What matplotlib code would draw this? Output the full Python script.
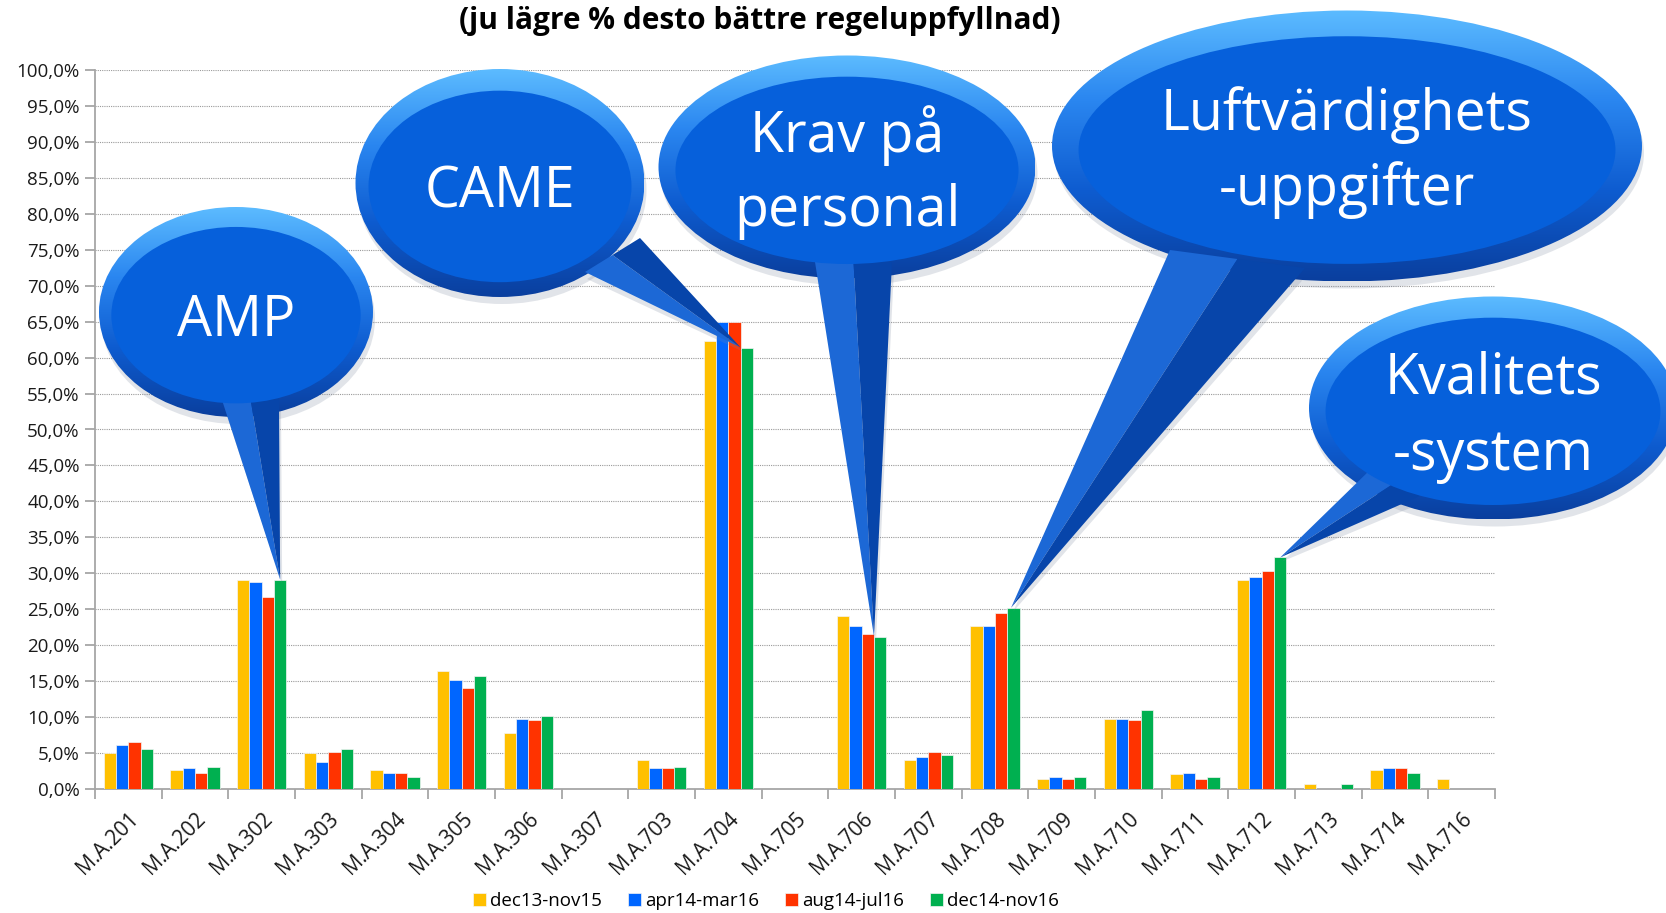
#!/usr/bin/env python3
"""Grouped bar chart of rule findings per M.A. paragraph, with speech-bubble callouts."""

import numpy as np
import matplotlib
matplotlib.use("Agg")
import matplotlib.pyplot as plt
from matplotlib.patches import Ellipse, Polygon
from matplotlib.colors import LinearSegmentedColormap
from matplotlib.ticker import FuncFormatter, MultipleLocator

plt.rcParams["font.family"] = ["Open Sans", "DejaVu Sans"]

CATEGORIES = ["M.A.201", "M.A.202", "M.A.302", "M.A.303", "M.A.304", "M.A.305",
              "M.A.306", "M.A.307", "M.A.703", "M.A.704", "M.A.705", "M.A.706",
              "M.A.707", "M.A.708", "M.A.709", "M.A.710", "M.A.711", "M.A.712",
              "M.A.713", "M.A.714", "M.A.716"]
SERIES = ["dec13-nov15", "apr14-mar16", "aug14-jul16", "dec14-nov16"]
DEC13_NOV15 = [5.0, 2.7, 29.1, 5.0, 2.7, 16.4, 7.8, 0, 4.1, 62.3, 0, 24.1,
               4.1, 22.7, 1.4, 9.8, 2.1, 29.1, 0.7, 2.7, 1.4]
APR14_MAR16 = [6.1, 2.9, 28.8, 3.8, 2.2, 15.2, 9.8, 0, 2.9, 65.0, 0, 22.7,
               4.5, 22.7, 1.6, 9.8, 2.2, 29.5, 0, 2.9, 0]
AUG14_JUL16 = [6.6, 2.2, 26.7, 5.2, 2.2, 14.1, 9.6, 0, 2.9, 65.0, 0, 21.6,
               5.2, 24.5, 1.4, 9.6, 1.4, 30.3, 0, 2.9, 0]
DEC14_NOV16 = [5.5, 3.1, 29.1, 5.5, 1.6, 15.7, 10.1, 0, 3.1, 61.4, 0, 21.2,
               4.7, 25.2, 1.6, 11.0, 1.6, 32.2, 0.7, 2.2, 0]
COLORS = ["#FFC000", "#0066FF", "#FF3300", "#00B050"]

CALLOUT_TEXT = ["AMP", "CAME", "Krav på\npersonal", "Luftvärdighets\n-uppgifter",
                "Kvalitets\n-system"]
CALLOUT_TARGET = ["M.A.302", "M.A.704", "M.A.706", "M.A.708", "M.A.712"]

W, H = 1666, 913
BAR_W = 0.185

RIM = LinearSegmentedColormap.from_list(
    "rim", ["#5CBBFF", "#2A86F0", "#0E5CD0", "#0A3F9E"])


def pct(v, _pos):
    return f"{v:.1f}".replace(".", ",") + "%"


def draw_bubble(ov, z, cx, cy, w, h, base1, base2, tip, baselines, text, fs):
    # soft shadow, mostly below the bubble
    ov.add_patch(Ellipse((cx + 2, cy + 7), w, h, fc="#7a869c", alpha=0.22,
                         lw=0, zorder=z))
    ov.add_patch(Polygon([(base1[0] + 2, base1[1] + 7), (tip[0] + 2, tip[1] + 4),
                          (base2[0] + 2, base2[1] + 7)], closed=True,
                         fc="#7a869c", alpha=0.22, lw=0, zorder=z))
    # rim with vertical gradient
    grad = np.linspace(0, 1, 256)[:, None]
    im = ov.imshow(grad, cmap=RIM, aspect="auto", interpolation="bilinear",
                   extent=(cx - w / 2, cx + w / 2, cy + h / 2, cy - h / 2),
                   zorder=z + 1)
    clip = Ellipse((cx, cy), w, h, transform=ov.transData, fc="none", ec="none")
    im.set_clip_path(clip)
    # tail in two shades
    mid = ((base1[0] + base2[0]) / 2, (base1[1] + base2[1]) / 2)
    ov.add_patch(Polygon([base1, tip, mid], closed=True, fc="#1C68D6", lw=0,
                         zorder=z + 2))
    ov.add_patch(Polygon([mid, tip, base2], closed=True, fc="#0745AA", lw=0,
                         zorder=z + 2))
    # face
    ov.add_patch(Ellipse((cx, cy + h * 0.015), w * 0.91, h * 0.84,
                         fc="#0660DB", lw=0, zorder=z + 3))
    for line, yb in zip(text.split("\n"), baselines):
        ov.text(cx, yb, line, color="white", fontsize=fs, ha="center",
                va="baseline", zorder=z + 4)


def main():
    fig = plt.figure(figsize=(W / 100, H / 100), dpi=100)
    ax = fig.add_axes([95 / W, 1 - 789 / H, 1400 / W, (789 - 70) / H])

    x = np.arange(len(CATEGORIES))
    for k, (vals, col, name) in enumerate(zip(
            [DEC13_NOV15, APR14_MAR16, AUG14_JUL16, DEC14_NOV16], COLORS, SERIES)):
        ax.bar(x + (k - 1.5) * BAR_W, vals, BAR_W, color=col, label=name,
               edgecolor="#f4f4f4", linewidth=0.5, zorder=3)

    ax.set_xlim(-0.5, len(CATEGORIES) - 0.5)
    ax.set_ylim(0, 100)
    ax.yaxis.set_major_locator(MultipleLocator(5))
    ax.yaxis.set_major_formatter(FuncFormatter(pct))
    ax.grid(axis="y", color="#9a9a9a", linestyle=(0, (1, 1)), linewidth=0.8,
            zorder=0)
    for side in ["top", "right"]:
        ax.spines[side].set_visible(False)
    for side in ["left", "bottom"]:
        ax.spines[side].set_color("#a6a6a6")
        ax.spines[side].set_linewidth(1.3)

    ax.set_xticks(x)
    ax.set_xticklabels(CATEGORIES, rotation=45, ha="right",
                       rotation_mode="anchor", fontsize=15, color="#1a1a1a")
    ax.tick_params(axis="x", which="major", length=0, pad=14)
    ax.set_xticks(np.arange(len(CATEGORIES) + 1) - 0.5, minor=True)
    ax.tick_params(axis="x", which="minor", length=7, color="#a6a6a6", width=1.3)
    ax.tick_params(axis="y", length=7, color="#a6a6a6", width=1.3,
                   labelsize=13.5, labelcolor="#1a1a1a", pad=4)

    fig.text(760 / W, 1 - 21 / H, "(ju lägre % desto bättre regeluppfyllnad)",
             ha="center", va="center", fontsize=21.5, fontweight="bold")

    fig.legend(loc="center", bbox_to_anchor=(766 / W, 1 - 901 / H), ncol=4,
               frameon=False, fontsize=13.5, handlelength=0.7, handleheight=0.7,
               handletextpad=0.2, columnspacing=1.4, borderaxespad=0)

    # speech bubbles drawn in figure pixel space, tails aimed at bar tops
    ov = fig.add_axes([0, 0, 1, 1])
    ov.set_axis_off()
    ov.set_zorder(5)

    def tip_at(cat, offset, value):
        i = CATEGORIES.index(cat)
        px, py = ax.transData.transform((i + offset * BAR_W, value))
        return (px, H - py)

    green = dict(zip(CATEGORIES, DEC14_NOV16))
    shapes = [
        # cx, cy, w, h, base1, base2, tip offset, baselines
        (236, 312, 274, 210, (222, 400), (279, 398), 1.5, [336]),
        (500, 183, 289, 228, (585, 272), (640, 238), 1.0, [208]),
        (847, 167, 377, 223, (815, 262), (892, 262), 1.0, [152, 226]),
        (1347, 146, 590, 271, (1170, 250), (1305, 268), 1.3, [130, 205]),
        (1493, 408, 368, 223, (1372, 468), (1420, 496), 1.5, [393, 470]),
    ]
    for n, (text, cat, shp) in enumerate(zip(CALLOUT_TEXT, CALLOUT_TARGET, shapes)):
        cx, cy, w, h, b1, b2, off, bl = shp
        tip = tip_at(cat, off, green[cat])
        draw_bubble(ov, 10 * n + 1, cx, cy, w, h, b1, b2, tip, bl, text, 40)

    ov.set_xlim(0, W)
    ov.set_ylim(H, 0)

    fig.savefig("out.png", dpi=100)
    plt.close(fig)


if __name__ == "__main__":
    main()
